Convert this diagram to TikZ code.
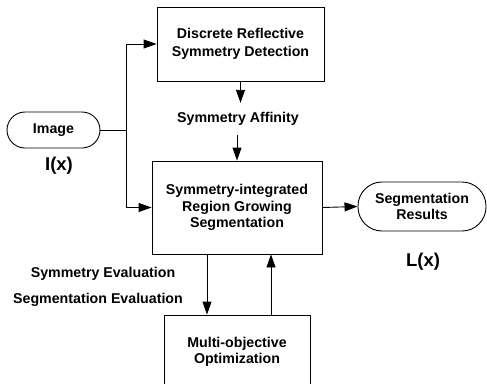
\documentclass[tikz,border=0pt]{standalone}
\usepackage{fontspec}
\setmainfont{Liberation Sans}
\usetikzlibrary{arrows.meta}
\tikzset{
  lbl/.style={font=\fontsize{14.2}{16.5}\selectfont\bfseries, align=center, inner sep=0pt},
  blk/.style={lbl, draw, line width=0.9pt, minimum width=#1},
  term/.style={lbl, draw, line width=0.9pt},
  big/.style={font=\fontsize{18.5}{20}\selectfont\bfseries, inner sep=0pt},
  conn/.style={line width=0.9pt, -{Triangle[length=13pt,width=9pt]}},
  plain/.style={line width=0.9pt}
}
\begin{document}
\begin{tikzpicture}[x=1pt,y=-1pt]
\useasboundingbox (0,0) rectangle (487,383);
\clip (0,0) rectangle (487,383);
\node[blk=167pt, minimum height=74pt] (det) at (240.5,44) {Discrete Reflective\\[1pt]Symmetry Detection};
\node[lbl, minimum height=32pt] (aff) at (238,119) {Symmetry Affinity};
\node[blk=170pt, minimum height=93pt] (mid) at (237,207.5) {Symmetry-integrated\\Region Growing\\Segmentation};
\node[blk=146pt, minimum height=74pt] (opt) at (237,352) {Multi-objective\\Optimization};
\node[term, minimum width=93pt, minimum height=36pt, rounded corners=18pt] (img) at (53.5,130) {Image};
\node[term, minimum width=128pt, minimum height=49pt, rounded corners=24pt] (res) at (422,206.5) {Segmentation\\Results};
\node[big] (ix) at (59,166) {I(x)};
\node[big] (lx) at (423,262) {L(x)};
\node[lbl] (sym) at (103,274) {Symmetry Evaluation};
\node[lbl] (seg) at (98,300) {Segmentation Evaluation};
\coordinate (j) at (126,130);
\draw[plain] (img.east) -- (j);
\draw[conn] (j) |- (det.west);
\draw[conn] (j) |- (mid.west);
\draw[conn] (det.south) -- (det.south |- aff.north);
\draw[conn] (mid.north |- aff.south) -- (mid.north);
\draw[conn] (mid.east) -- (res.west);
\draw[conn] ([xshift=-30pt]mid.south) -- ([xshift=-30pt]mid.south |- opt.north);
\draw[conn] ([xshift=34pt]mid.south |- opt.north) -- ([xshift=34pt]mid.south);
\end{tikzpicture}
\end{document}
